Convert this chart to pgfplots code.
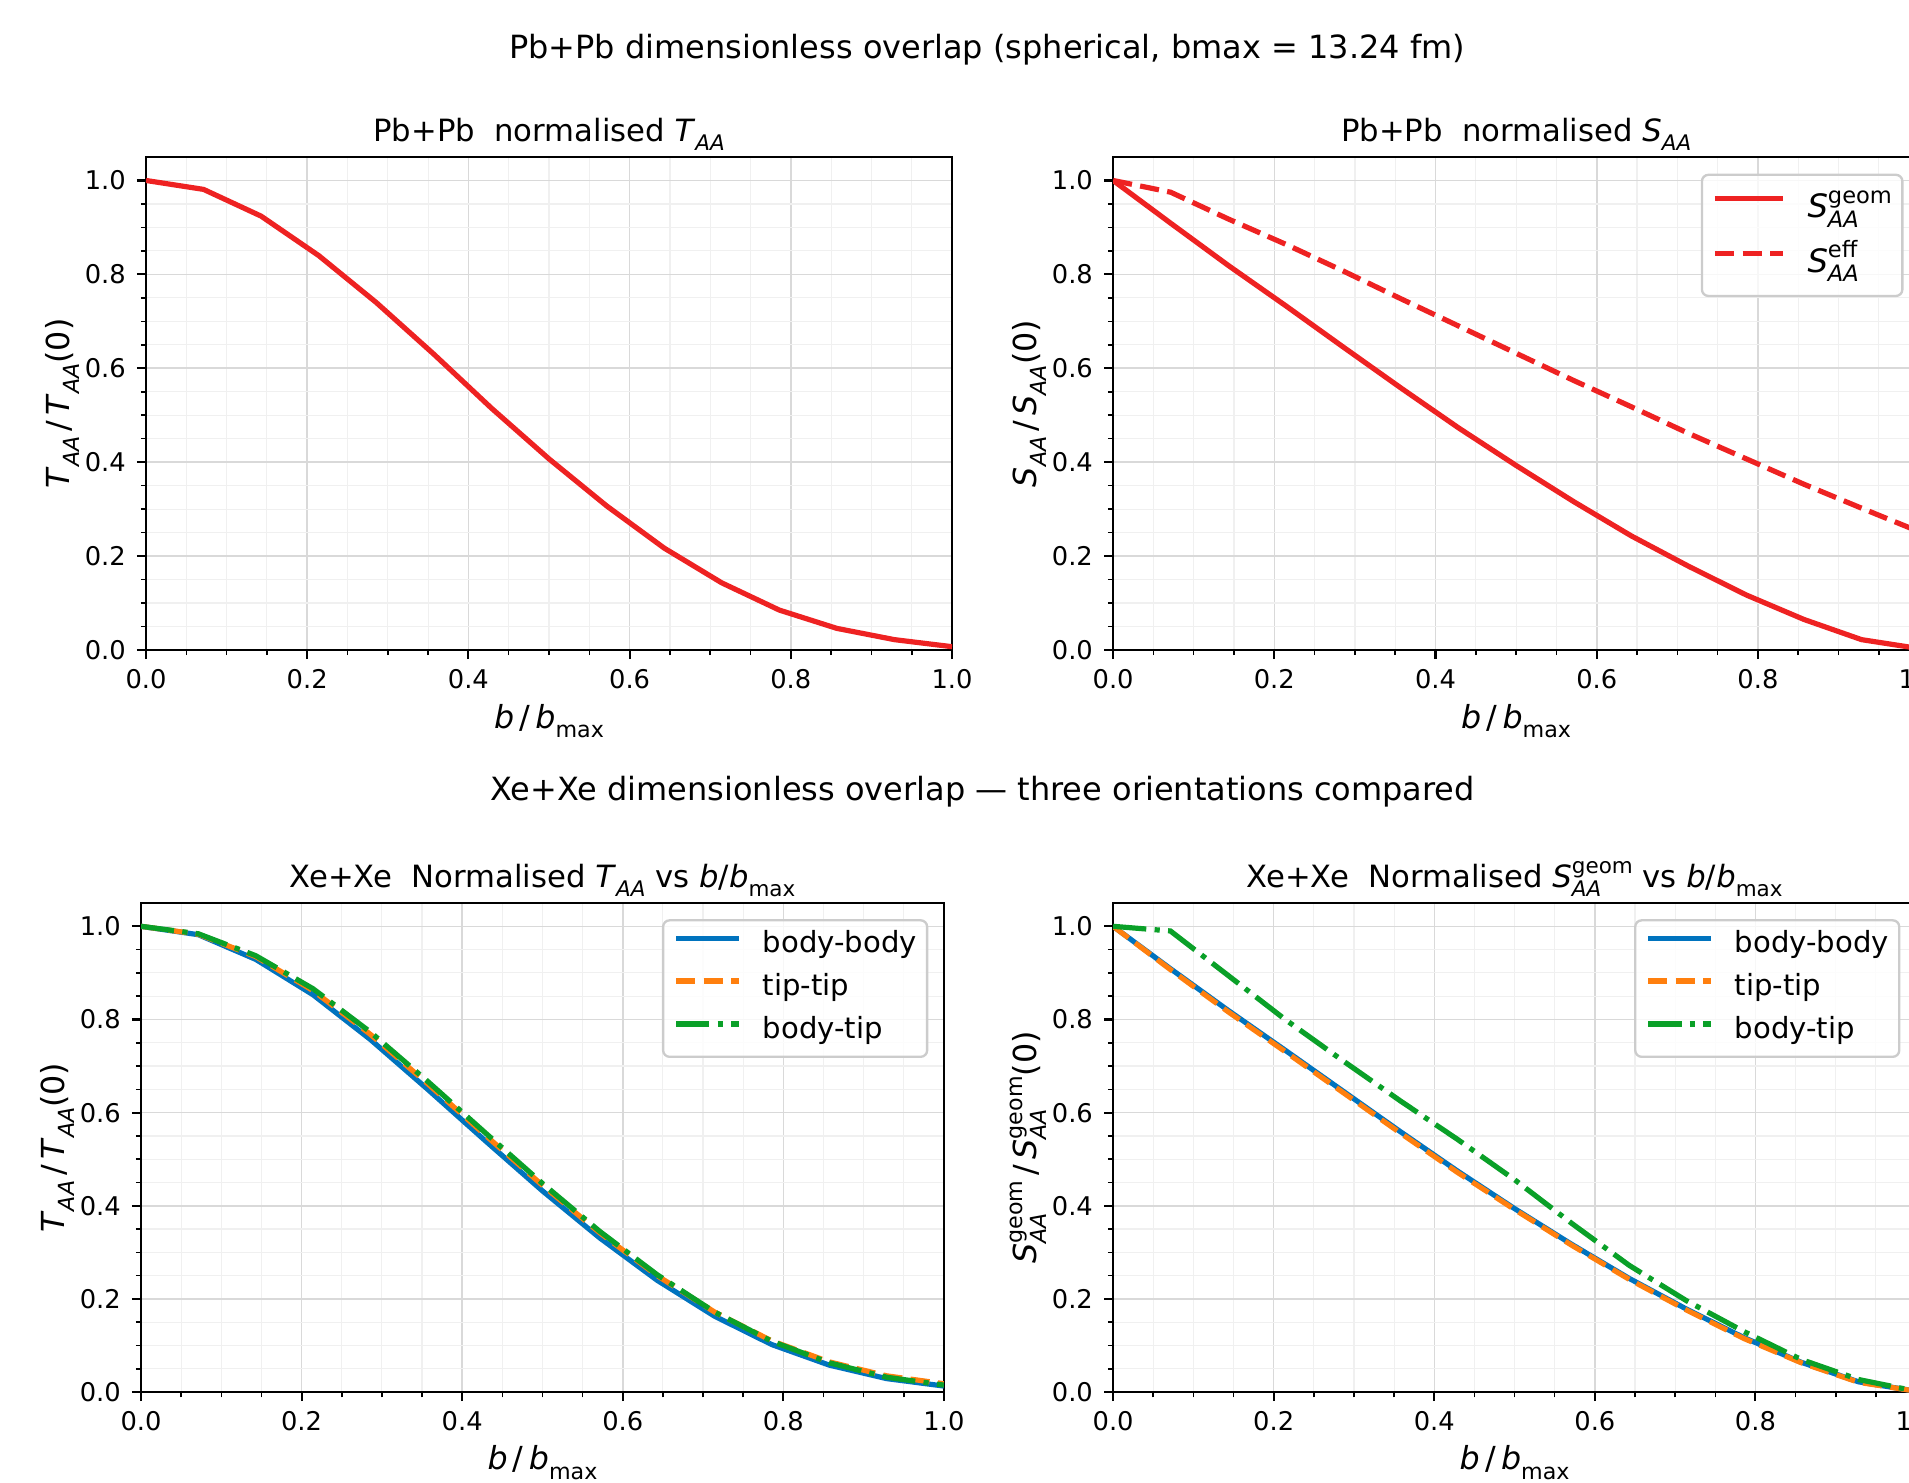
\documentclass[border=0pt]{standalone}
\usepackage{fontspec}
\setmainfont{DejaVu Sans}
\usepackage{pgfplots}
\pgfplotsset{compat=1.18}

\definecolor{cred}{RGB}{238,34,34}
\definecolor{cblue}{RGB}{0,115,190}
\definecolor{corange}{RGB}{255,127,14}
\definecolor{cgreen}{RGB}{10,160,40}

\makeatletter
\newcommand{\smallfont}{\fontsize{\fpeval{0.7*\f@size}}{\fpeval{0.8*\f@size}}\selectfont}
\makeatother
\newcommand{\sps}[1]{\raisebox{0.45em}{\smallfont #1}}
\newcommand{\sbs}[1]{\raisebox{-0.29em}{\smallfont #1}}
\newcommand{\supsub}[2]{{\setbox0\hbox{\sps{#1}}\setbox2\hbox{\sbs{#2}}\dimen0=\wd0 \ifdim\wd2>\dimen0 \dimen0=\wd2\fi\rlap{\copy0}\rlap{\copy2}\kern\dimen0}}
\newcommand{\Tsub}{\textit{T}\sbs{\textit{AA}}}
\newcommand{\Ssub}{\textit{S}\sbs{\textit{AA}}}
\newcommand{\Sgeom}{\textit{S}\supsub{geom}{\textit{AA}}}
\newcommand{\Seff}{\textit{S}\supsub{eff}{\textit{AA}}}
\newcommand{\bb}{\textit{b}\,/\,\textit{b}\sbs{max}}
\newcommand{\bbt}{\textit{b}/\textit{b}\sbs{max}}

\pgfplotsset{
  mpl/.style={
    scale only axis,
    xmin=0, xmax=1, ymin=0, ymax=1.05,
    xtick={0,0.2,0.4,0.6,0.8,1},
    ytick={0,0.2,0.4,0.6,0.8,1},
    minor x tick num=3, minor y tick num=3,
    grid=both,
    major grid style={draw=black!15, line width=0.6pt},
    minor grid style={draw=black!6, line width=0.45pt},
    axis line style={line width=0.9pt},
    tick align=outside, tick pos=left,
    major tick length=3.5pt, minor tick length=2pt,
    every tick/.style={black, line width=0.8pt},
    every minor tick/.append style={line width=0.6pt},
    ticklabel style={font=\fontsize{9.9}{11}\selectfont, inner sep=0pt},
    xticklabel shift=3.8pt,
    yticklabel shift=4.1pt,
    /pgf/number format/.cd, fixed, fixed zerofill, precision=1, assume math mode=true,
    /pgfplots/.cd,
    every axis title/.style={font=\fontsize{11.8}{14}\selectfont, at={(0.5,1)}, anchor=base, yshift=5.9pt, inner sep=0pt},
    label style={font=\fontsize{12.2}{14}\selectfont, inner sep=0pt},
    legend cell align=left,
    legend image code/.code={\draw[##1] (0pt,2.9pt) -- (24pt,2.9pt);},
    legend style={at={(1,1)}, anchor=north east, xshift=-6pt, yshift=-6.2pt,
      draw=black!20, line width=0.9pt, rounded corners=2.5pt,
      fill=white, fill opacity=0.8, text opacity=1,
      font=\fontsize{11.2}{13}\selectfont,
      inner xsep=4pt, inner ysep=4.5pt, row sep=6pt,
      nodes={inner sep=0pt, text height=8pt, text depth=2.5pt},
      /tikz/every odd column/.append style={column sep=8.3pt}},
  },
  toprow/.style={xlabel style={at={(axis description cs:0.5,-0.159)}, anchor=base},
                 ylabel style={at={(axis description cs:-0.0945,0.5)}, anchor=base}},
  botrow/.style={xlabel style={at={(axis description cs:0.5,-0.159)}, anchor=base},
                 ylabel style={at={(axis description cs:-0.0949,0.5)}, anchor=base}},
  bbody/.style={cblue, line width=2pt},
  ttip/.style={corange, line width=2pt, dash pattern=on 7.4pt off 3.2pt},
  btip/.style={cgreen, line width=2pt, dash pattern=on 12.8pt off 3.2pt on 2pt off 3.2pt},
}

\begin{document}
\begin{tikzpicture}
\useasboundingbox (0,0) rectangle (734.2pt,-570pt);
\clip (0,0) rectangle (734.2pt,-570pt);

\node[anchor=base, font=\fontsize{12.3}{15}\selectfont] at (379.6pt,-22.5pt) {Pb+Pb dimensionless overlap (spherical, bmax = 13.24 fm)};
\node[anchor=base, font=\fontsize{12.3}{15}\selectfont] at (377.9pt,-307.7pt) {Xe+Xe dimensionless overlap — three orientations compared};

% Top-left
\begin{axis}[mpl, toprow, at={(56.15pt,-60.38pt)}, anchor=north west, width=310pt, height=189.6pt,
  title={Pb+Pb\ \ normalised \Tsub}, xlabel={\bb}, ylabel={\Tsub\,/\,\Tsub(0)}]
\addplot[cred, line width=2pt] coordinates {
(0,1.000) (0.0714,0.981) (0.1429,0.924) (0.2143,0.840) (0.2857,0.740) (0.3571,0.630)
(0.4286,0.515) (0.5,0.407) (0.5714,0.307) (0.6429,0.217) (0.7143,0.143) (0.7857,0.085)
(0.8571,0.046) (0.9286,0.022) (1.0,0.007)};
\end{axis}

% Top-right
\begin{axis}[mpl, toprow, at={(428.1pt,-60.38pt)}, anchor=north west, width=310pt, height=189.6pt,
  title={Pb+Pb\ \ normalised \Ssub}, xlabel={\bb}, ylabel={\Ssub\,/\,\Ssub(0)},
  legend image code/.code={\draw[#1] (0pt,3.6pt) -- (26pt,3.6pt);},
  legend style={xshift=0pt, yshift=-0.2pt, row sep=5.2pt, inner ysep=5pt,
    font=\fontsize{12.4}{14}\selectfont,
    nodes={inner sep=0pt, text height=11.5pt, text depth=4.2pt},
    /tikz/every odd column/.append style={column sep=8.6pt}}]
\addplot[cred, line width=2pt] coordinates {
(0,1.000) (0.0714,0.909) (0.1429,0.819) (0.2143,0.733) (0.2857,0.645) (0.3571,0.558)
(0.4286,0.473) (0.5,0.393) (0.5714,0.316) (0.6429,0.243) (0.7143,0.178) (0.7857,0.117)
(0.8571,0.065) (0.9286,0.022) (1.0,0.003)};
\addlegendentry{\Sgeom}
\addplot[cred, line width=2pt, dash pattern=on 7.4pt off 3.2pt] coordinates {
(0,1.000) (0.0714,0.975) (0.1429,0.918) (0.2143,0.864) (0.2857,0.807) (0.3571,0.748)
(0.4286,0.690) (0.5,0.632) (0.5714,0.574) (0.6429,0.518) (0.7143,0.461) (0.7857,0.407)
(0.8571,0.353) (0.9286,0.302) (1.0,0.252)};
\addlegendentry{\Seff}
\end{axis}

% Bottom-left
\begin{axis}[mpl, botrow, at={(54.23pt,-347.3pt)}, anchor=north west, width=308.8pt, height=188.1pt,
  title={Xe+Xe\ \ Normalised \Tsub{} vs \bbt}, xlabel={\bb}, ylabel={\Tsub\,/\,\Tsub(0)}]
\addplot[bbody] coordinates {
(0,1.000) (0.0714,0.982) (0.1429,0.929) (0.2143,0.853) (0.2857,0.757) (0.3571,0.650)
(0.4286,0.540) (0.5,0.432) (0.5714,0.331) (0.6429,0.240) (0.7143,0.163) (0.7857,0.102)
(0.8571,0.058) (0.9286,0.029) (1.0,0.013)};
\addlegendentry{body-body}
\addplot[ttip] coordinates {
(0,1.000) (0.0714,0.983) (0.1429,0.935) (0.2143,0.862) (0.2857,0.768) (0.3571,0.662)
(0.4286,0.552) (0.5,0.444) (0.5714,0.342) (0.6429,0.250) (0.7143,0.172) (0.7857,0.110)
(0.8571,0.065) (0.9286,0.035) (1.0,0.018)};
\addlegendentry{tip-tip}
\addplot[btip] coordinates {
(0,1.000) (0.0714,0.984) (0.1429,0.937) (0.2143,0.866) (0.2857,0.773) (0.3571,0.667)
(0.4286,0.557) (0.5,0.448) (0.5714,0.345) (0.6429,0.252) (0.7143,0.172) (0.7857,0.109)
(0.8571,0.063) (0.9286,0.032) (1.0,0.015)};
\addlegendentry{body-tip}
\end{axis}

% Bottom-right
\begin{axis}[mpl, botrow, at={(428.1pt,-347.3pt)}, anchor=north west, width=308.8pt, height=188.1pt,
  title={Xe+Xe\ \ Normalised \Sgeom{} vs \bbt}, xlabel={\bb}, ylabel={\Sgeom\,/\,\Sgeom(0)}]
\addplot[bbody] coordinates {
(0,1.000) (0.0714,0.909) (0.1429,0.820) (0.2143,0.734) (0.2857,0.647) (0.3571,0.560)
(0.4286,0.475) (0.5,0.394) (0.5714,0.317) (0.6429,0.244) (0.7143,0.178) (0.7857,0.117)
(0.8571,0.064) (0.9286,0.022) (1.0,0.002)};
\addlegendentry{body-body}
\addplot[ttip] coordinates {
(0,1.000) (0.0714,0.907) (0.1429,0.817) (0.2143,0.731) (0.2857,0.644) (0.3571,0.557)
(0.4286,0.472) (0.5,0.392) (0.5714,0.315) (0.6429,0.242) (0.7143,0.176) (0.7857,0.115)
(0.8571,0.063) (0.9286,0.021) (1.0,0.002)};
\addlegendentry{tip-tip}
\addplot[btip] coordinates {
(0,1.000) (0.0714,0.990) (0.1429,0.895) (0.2143,0.800) (0.2857,0.712) (0.3571,0.626)
(0.4286,0.543) (0.5,0.456) (0.5714,0.362) (0.6429,0.272) (0.7143,0.196) (0.7857,0.130)
(0.8571,0.070) (0.9286,0.027) (1.0,0.002)};
\addlegendentry{body-tip}
\end{axis}
\end{tikzpicture}
\end{document}
